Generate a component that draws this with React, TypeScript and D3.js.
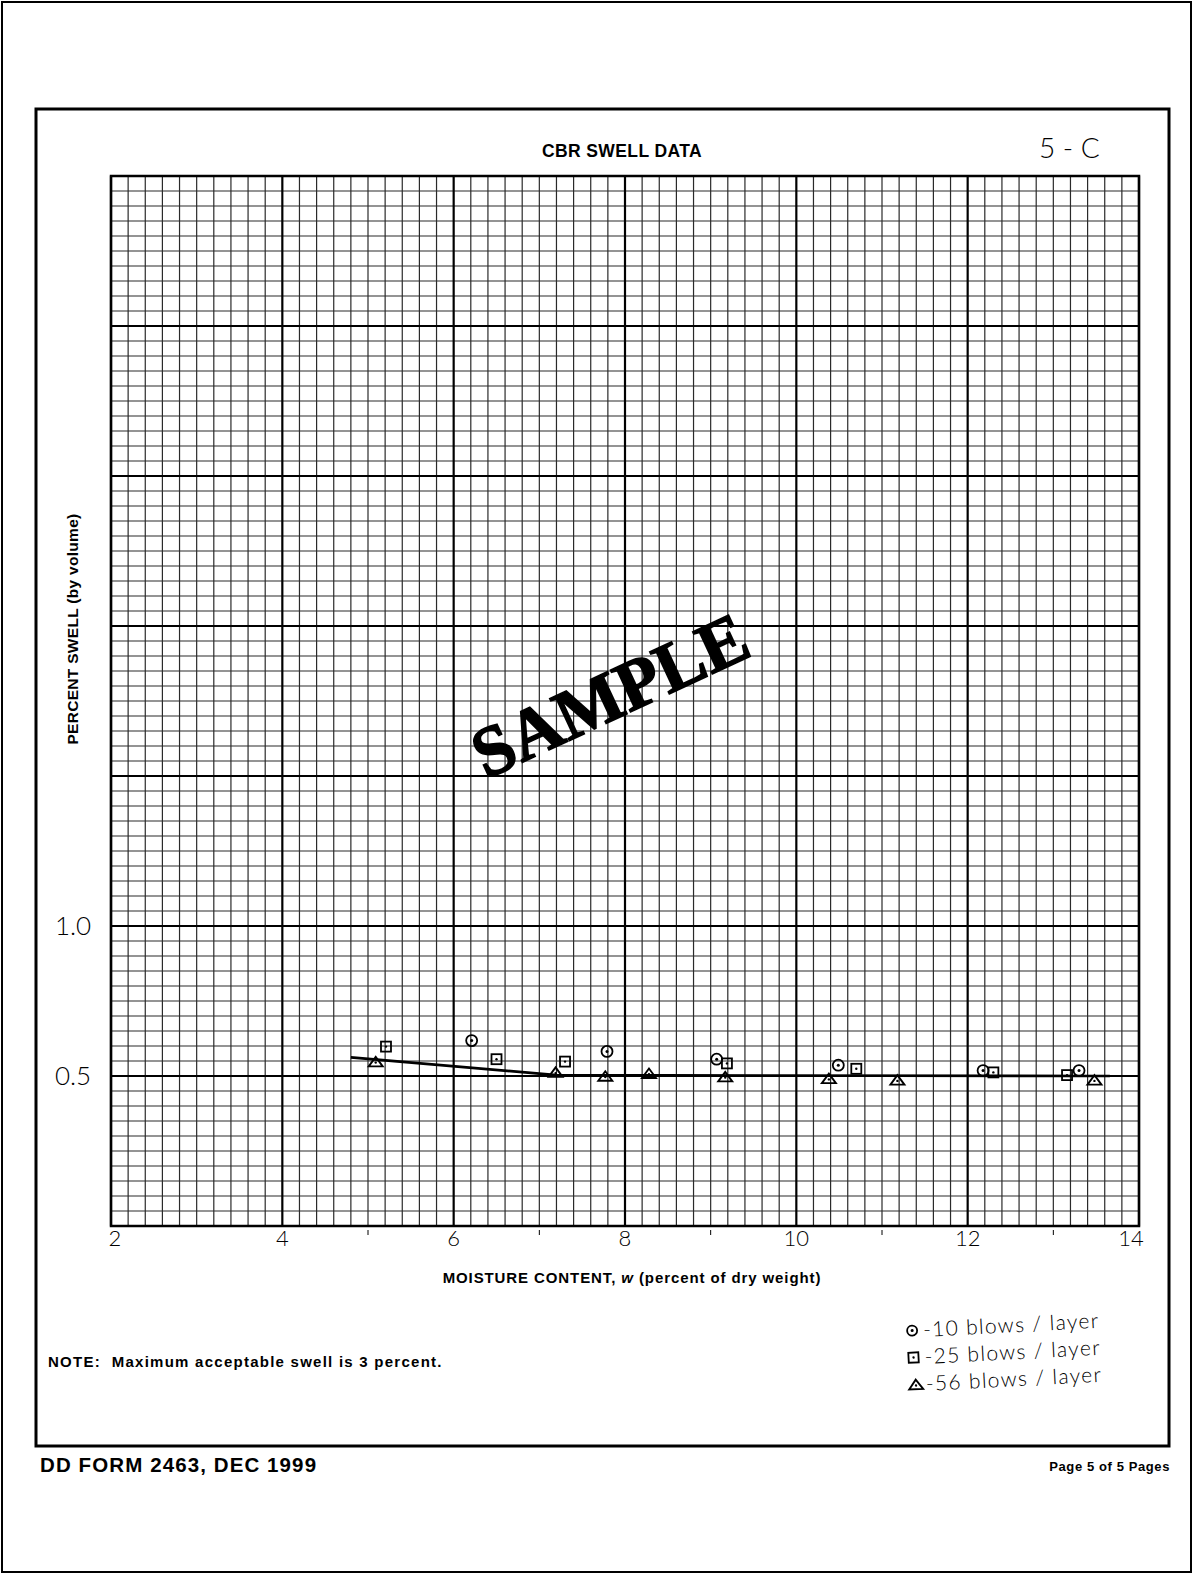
import React from "react";
import * as d3 from "d3";

const W = 1193;
const H = 1574;

// data
const xTickValues = [2, 4, 6, 8, 10, 12, 14];
const xTickLabels = ["2", "4", "6", "8", "10", "12", "14"];
const xMinorMarks = [5, 7, 9, 11, 13];
const yTickValues = [1.0, 0.5];
const yTickLabels = ["1.0", "0.5"];

const blows10X = [6.21, 7.79, 9.07, 10.49, 12.18, 13.3];
const blows10Y = [0.618, 0.582, 0.556, 0.536, 0.518, 0.518];
const blows25X = [5.21, 6.5, 7.3, 9.19, 10.7, 12.3, 13.16];
const blows25Y = [0.598, 0.556, 0.548, 0.542, 0.524, 0.512, 0.503];
const blows56X = [5.09, 7.19, 7.77, 8.28, 9.17, 10.38, 11.18, 13.48];
const blows56Y = [0.548, 0.513, 0.5, 0.509, 0.498, 0.492, 0.487, 0.487];
const fitX = [4.8, 7.2, 13.66];
const fitY = [0.562, 0.503, 0.5];

const legendLabels = ["-10 blows / layer", "-25 blows / layer", "-56 blows / layer"];

const HAND = "'Lato', 'DejaVu Sans', sans-serif";
const SANS = "'Liberation Sans', Arial, sans-serif";

export default function App() {
  const x = d3.scaleLinear().domain([2, 14]).range([111, 1139]);
  const y = d3.scaleLinear().domain([0, 3.5]).range([1226, 176]);

  const xMinor = d3.range(0, 61).map((i) => 2 + i * 0.2);
  const yMinor = d3.range(0, 71).map((i) => i * 0.05);
  const isMajorX = (v: number) => Math.abs(v / 2 - Math.round(v / 2)) < 1e-6;
  const isMajorY = (v: number) => Math.abs(v / 0.5 - Math.round(v / 0.5)) < 1e-6;

  const line = d3
    .line<number>()
    .x((_, i) => x(fitX[i]))
    .y((_, i) => y(fitY[i]));

  const circleMark = (cx: number, cy: number, r = 5.5) => (
    <g>
      <circle cx={cx} cy={cy} r={r} fill="none" stroke="#000" strokeWidth={1.8} />
      <circle cx={cx} cy={cy} r={1.5} fill="#000" />
    </g>
  );
  const squareMark = (cx: number, cy: number, s = 10) => (
    <g>
      <rect x={cx - s / 2} y={cy - s / 2} width={s} height={s} fill="none" stroke="#000" strokeWidth={1.8} />
      <circle cx={cx} cy={cy} r={1.2} fill="#000" />
    </g>
  );
  const triMark = (cx: number, cy: number, w = 14) => {
    const h = w * 0.68;
    const p = `M${cx - w / 2},${cy + h / 2} L${cx},${cy - h / 2} L${cx + w / 2},${cy + h / 2} Z`;
    return (
      <g>
        <path d={p} fill="none" stroke="#000" strokeWidth={1.9} />
        <circle cx={cx} cy={cy + 1} r={1.2} fill="#000" />
      </g>
    );
  };

  const pre = { whiteSpace: "pre" as const };

  return (
    <svg
      width={W}
      height={H}
      viewBox={`0 0 ${W} ${H}`}
      style={{ position: "absolute", left: 0, top: 0, background: "#fff" }}
    >
      <rect x={0} y={0} width={W} height={H} fill="#fff" />
      {/* page border */}
      <rect x={2} y={2} width={W - 4} height={H - 4} fill="none" stroke="#000" strokeWidth={2} />
      {/* form box */}
      <rect x={36} y={109} width={1133} height={1337} fill="none" stroke="#000" strokeWidth={3} />

      <text x={622} y={157} textAnchor="middle" fontFamily={SANS} fontWeight="bold" fontSize={17.5} letterSpacing={0.4}>
        CBR SWELL DATA
      </text>
      <text x={1039} y={158} fontFamily={HAND} fontSize={28} fontWeight={300} style={pre}>
        5 - C
      </text>

      {/* grid */}
      <g>
        {xMinor.filter((v) => !isMajorX(v)).map((v, i) => (
          <line key={"xm" + i} x1={x(v)} x2={x(v)} y1={y(3.5)} y2={y(0)} stroke="#2a2a2a" strokeWidth={1.2} />
        ))}
        {yMinor.filter((v) => !isMajorY(v)).map((v, i) => (
          <line key={"ym" + i} x1={x(2)} x2={x(14)} y1={y(v)} y2={y(v)} stroke="#2a2a2a" strokeWidth={1.2} />
        ))}
        {xMinor.filter((v) => isMajorX(v)).map((v, i) => (
          <line key={"xM" + i} x1={x(v)} x2={x(v)} y1={y(3.5)} y2={y(0)} stroke="#000" strokeWidth={2.2} />
        ))}
        {yMinor.filter((v) => isMajorY(v)).map((v, i) => (
          <line key={"yM" + i} x1={x(2)} x2={x(14)} y1={y(v)} y2={y(v)} stroke="#000" strokeWidth={2.2} />
        ))}
        <rect x={x(2)} y={y(3.5)} width={x(14) - x(2)} height={y(0) - y(3.5)} fill="none" stroke="#000" strokeWidth={2.5} />
      </g>

      {/* watermark */}
      <text
        x={620}
        y={717}
        transform="rotate(-25 620 717)"
        textAnchor="middle"
        fontFamily="'Liberation Serif', 'Times New Roman', serif"
        fontWeight="bold"
        fontSize={71}
        fill="#000"
        stroke="#000"
        strokeWidth={1.6}
      >
        SAMPLE
      </text>

      {/* fit line */}
      <path d={line(fitX) || ""} fill="none" stroke="#000" strokeWidth={2.6} />

      {/* markers */}
      {blows10X.map((v, i) => (
        <g key={"c" + i}>{circleMark(x(v), y(blows10Y[i]))}</g>
      ))}
      {blows25X.map((v, i) => (
        <g key={"s" + i}>{squareMark(x(v), y(blows25Y[i]))}</g>
      ))}
      {blows56X.map((v, i) => (
        <g key={"t" + i}>{triMark(x(v), y(blows56Y[i]))}</g>
      ))}

      {/* axis labels */}
      {xTickValues.map((v, i) => (
        <text
          key={"xt" + i}
          x={x(v) + (i === 0 ? 4 : i === xTickValues.length - 1 ? -8 : 0)}
          y={1246}
          textAnchor="middle"
          fontFamily={HAND}
          fontWeight={300}
          fontSize={22}
        >
          {xTickLabels[i]}
        </text>
      ))}
      {xMinorMarks.map((v, i) => (
        <line key={"mk" + i} x1={x(v)} x2={x(v)} y1={1230} y2={1235} stroke="#000" strokeWidth={1} />
      ))}
      {yTickValues.map((v, i) => (
        <text
          key={"yt" + i}
          x={73}
          y={y(v) + 9}
          textAnchor="middle"
          fontFamily={HAND}
          fontWeight={300}
          fontSize={26}
        >
          {yTickLabels[i]}
        </text>
      ))}
      <text
        x={78}
        y={629}
        transform="rotate(-90 78 629)"
        textAnchor="middle"
        fontFamily={SANS}
        fontWeight="bold"
        fontSize={15.5}
        letterSpacing={0.3}
      >
        PERCENT SWELL (by volume)
      </text>
      <text x={632} y={1283} textAnchor="middle" fontFamily={SANS} fontWeight="bold" fontSize={15} letterSpacing={0.9}>
        MOISTURE CONTENT, <tspan fontStyle="italic">w</tspan> (percent of dry weight)
      </text>

      <text x={48} y={1367} fontFamily={SANS} fontWeight="bold" fontSize={15} letterSpacing={1.25} style={pre}>
        NOTE:  Maximum acceptable swell is 3 percent.
      </text>

      {/* handwritten legend */}
      <g transform="rotate(-3 1000 1345)">
        {circleMark(913, 1326, 5)}
        <text x={924} y={1333} fontFamily={HAND} fontWeight={300} fontSize={21} letterSpacing={1.3} style={pre}>{legendLabels[0]}</text>
        {squareMark(913, 1353, 10)}
        <text x={924} y={1360} fontFamily={HAND} fontWeight={300} fontSize={21} letterSpacing={1.3} style={pre}>{legendLabels[1]}</text>
        {triMark(914, 1380, 14)}
        <text x={924} y={1387} fontFamily={HAND} fontWeight={300} fontSize={21} letterSpacing={1.3} style={pre}>{legendLabels[2]}</text>
      </g>

      <text x={40} y={1472} fontFamily={SANS} fontWeight="bold" fontSize={20.5} letterSpacing={1.1}>
        DD FORM 2463, DEC 1999
      </text>
      <text x={1170} y={1471} textAnchor="end" fontFamily={SANS} fontWeight="bold" fontSize={13} letterSpacing={0.6}>
        Page 5 of 5 Pages
      </text>
    </svg>
  );
}
